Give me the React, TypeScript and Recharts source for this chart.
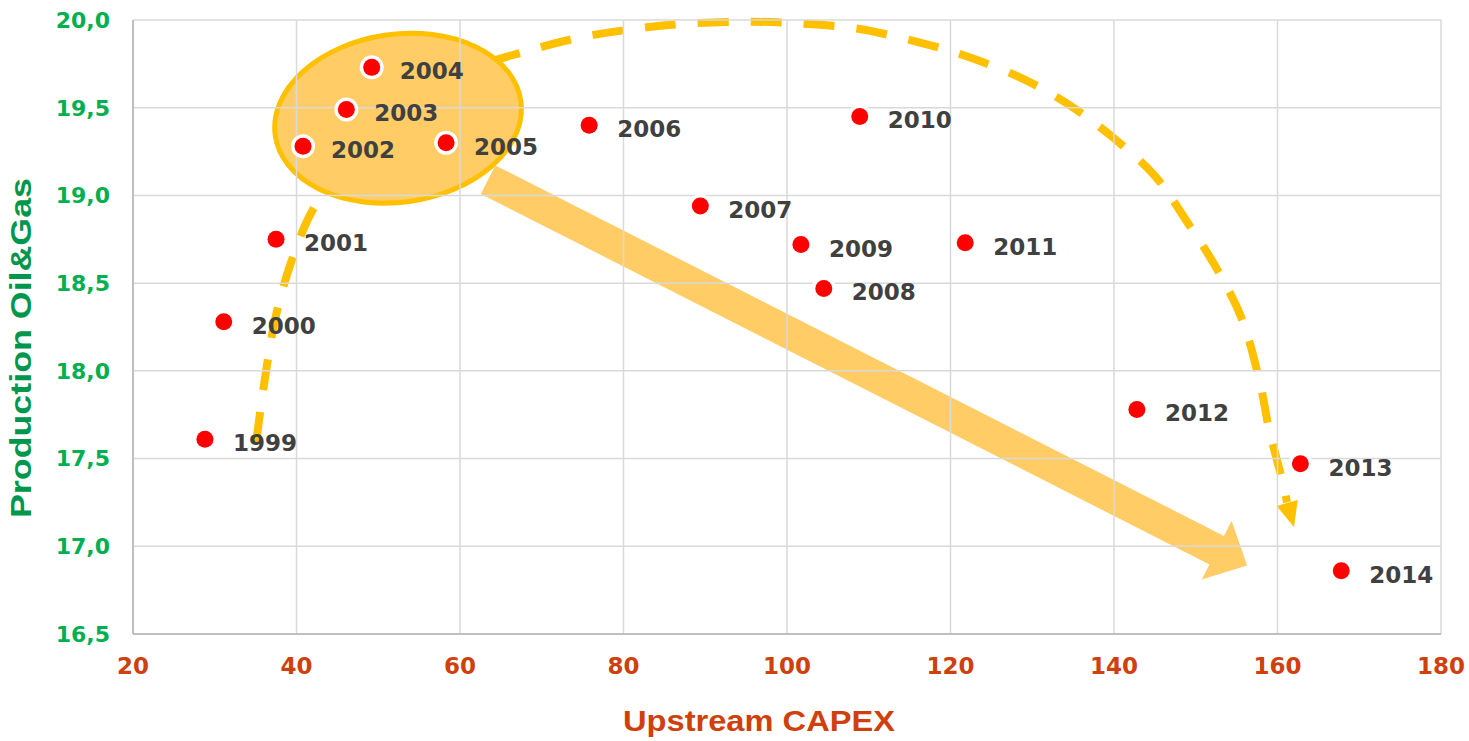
import React from 'react'
import { CartesianGrid, Scatter, ScatterChart, XAxis, YAxis } from 'recharts'

// values
const years = ['1999', '2000', '2001', '2002', '2003', '2004', '2005', '2006', '2007', '2008', '2009', '2010', '2011', '2012', '2013', '2014']
const capex = [28.8, 31.1, 37.5, 40.8, 46.1, 49.2, 58.3, 75.8, 89.4, 104.5, 101.7, 108.9, 121.8, 142.8, 162.8, 167.8]
const production = [17.61, 18.28, 18.75, 19.28, 19.49, 19.73, 19.3, 19.4, 18.94, 18.47, 18.72, 19.45, 18.73, 17.78, 17.47, 16.86]

const xTicks = [20, 40, 60, 80, 100, 120, 140, 160, 180]
const yTicks = [16.5, 17, 17.5, 18, 18.5, 19, 19.5, 20]

// annotation anchors, in data units
const arcPath: [number, number][] = [
  [35.05, 17.59], [36.15, 17.96], [37.37, 18.29], [39.2, 18.6], [41.9, 18.91], [45.93, 19.17],
  [52.66, 19.49], [60.0, 19.7], [67.95, 19.82], [74.68, 19.9], [81.41, 19.95], [88.13, 19.98],
  [95.47, 19.99], [101.59, 19.98], [108.69, 19.95], [116.39, 19.87], [122.14, 19.79], [128.62, 19.67],
  [134.37, 19.52], [139.88, 19.33], [145.02, 19.11], [148.93, 18.85], [152.72, 18.57], [155.78, 18.28],
  [157.86, 17.93], [158.96, 17.67], [160.67, 17.36], [161.16, 17.25],
]
const arcTip: [number, number] = [162.02, 17.11]
const clusterCenter: [number, number] = [52.42, 19.44]
const trendFrom: [number, number] = [63.43, 19.09]
const trendTo: [number, number] = [156.27, 16.89]

const points = years.map((year, i) => ({ year, x: capex[i], y: production[i] }))

const W = 1469
const H = 741
const MARGIN = { top: 20, right: 28, left: 0, bottom: 0 }
const Y_AXIS_W = 133
const X_AXIS_H = 107
const X_DOMAIN: [number, number] = [20, 180]
const Y_DOMAIN: [number, number] = [16.5, 20]

const plotLeft = MARGIN.left + Y_AXIS_W
const plotTop = MARGIN.top
const plotW = W - plotLeft - MARGIN.right
const plotH = H - plotTop - MARGIN.bottom - X_AXIS_H

const px = (x: number) => plotLeft + ((x - X_DOMAIN[0]) / (X_DOMAIN[1] - X_DOMAIN[0])) * plotW
const py = (y: number) => plotTop + ((Y_DOMAIN[1] - y) / (Y_DOMAIN[1] - Y_DOMAIN[0])) * plotH

const GREEN = '#00B050'
const GREEN_DARK = '#00964B'
const RUST = '#D0400C'
const GOLD = '#FFC000'
const PEACH = '#FFCC66'

function smoothPath(pts: [number, number][]): string {
  let d = `M${pts[0][0]},${pts[0][1]}`
  for (let i = 0; i < pts.length - 1; i++) {
    const p0 = pts[i - 1] || pts[i]
    const p1 = pts[i]
    const p2 = pts[i + 1]
    const p3 = pts[i + 2] || p2
    const c1x = p1[0] + (p2[0] - p0[0]) / 6
    const c1y = p1[1] + (p2[1] - p0[1]) / 6
    const c2x = p2[0] - (p3[0] - p1[0]) / 6
    const c2y = p2[1] - (p3[1] - p1[1]) / 6
    d += ` C${c1x},${c1y} ${c2x},${c2y} ${p2[0]},${p2[1]}`
  }
  return d
}

function Annotations() {
  const arc = arcPath.map(([x, y]) => [px(x), py(y)] as [number, number])
  const last = arc[arc.length - 1]
  const tip = [px(arcTip[0]), py(arcTip[1])]
  let ux = tip[0] - last[0]
  let uy = tip[1] - last[1]
  let len = Math.hypot(ux, uy)
  ux /= len
  uy /= len
  const headBase = [tip[0] - ux * 25, tip[1] - uy * 25]
  const arcHead = [
    [headBase[0] - uy * 11, headBase[1] + ux * 11],
    tip,
    [headBase[0] + uy * 11, headBase[1] - ux * 11],
  ]

  // big trend arrow
  const s = [px(trendFrom[0]), py(trendFrom[1])]
  const t = [px(trendTo[0]), py(trendTo[1])]
  let ax = t[0] - s[0]
  let ay = t[1] - s[1]
  len = Math.hypot(ax, ay)
  ax /= len
  ay /= len
  const nx = -ay
  const ny = ax
  const shaft = 16
  const head = 33
  const headLen = 34
  const b = [t[0] - ax * headLen, t[1] - ay * headLen]
  const arrow = [
    [s[0] + nx * shaft, s[1] + ny * shaft],
    [b[0] + nx * shaft, b[1] + ny * shaft],
    [b[0] + nx * head, b[1] + ny * head],
    t,
    [b[0] - nx * head, b[1] - ny * head],
    [b[0] - nx * shaft, b[1] - ny * shaft],
    [s[0] - nx * shaft, s[1] - ny * shaft],
  ]

  const cx = px(clusterCenter[0])
  const cy = py(clusterCenter[1])

  return (
    <svg width={W} height={H} style={{ position: 'absolute', left: 0, top: 0, zIndex: 0 }}>
      <path d={smoothPath(arc)} fill="none" stroke={GOLD} strokeWidth={8} strokeDasharray="31 22" />
      <polygon points={arcHead.map((p) => p.join(',')).join(' ')} fill={GOLD} />
      <ellipse
        cx={cx}
        cy={cy}
        rx={124}
        ry={84}
        transform={`rotate(-8 ${cx} ${cy})`}
        fill={PEACH}
        stroke={GOLD}
        strokeWidth={5}
      />
      <polygon points={arrow.map((p) => p.join(',')).join(' ')} fill={PEACH} />
    </svg>
  )
}

function YearDot(props: any) {
  const { cx, cy, payload } = props
  if (cx == null || cy == null) return null
  return (
    <g>
      <circle cx={cx} cy={cy} r={12} fill="#ffffff" />
      <circle cx={cx} cy={cy} r={8.5} fill="#FF0000" />
      <text
        x={cx + 28}
        y={cy + 12}
        fill="#404040"
        fontFamily="DejaVu Sans"
        fontWeight="bold"
        fontSize={23}
      >
        {payload.year}
      </text>
    </g>
  )
}

function XTitle(props: any) {
  const vb = props.viewBox || {}
  return (
    <text
      x={vb.x + vb.width / 2 - 28}
      y={vb.y + 97}
      textAnchor="middle"
      fill={RUST}
      fontFamily="Liberation Sans"
      fontWeight="bold"
      fontSize={29}
      textLength={272}
      lengthAdjust="spacingAndGlyphs"
    >
      Upstream CAPEX
    </text>
  )
}

function YTitle(props: any) {
  const vb = props.viewBox || {}
  const x = vb.x + 31
  const y = vb.y + vb.height / 2 + 21
  return (
    <text
      x={x}
      y={y}
      transform={`rotate(-90 ${x} ${y})`}
      textAnchor="middle"
      fill={GREEN_DARK}
      fontFamily="Liberation Sans"
      fontWeight="bold"
      fontSize={30}
      textLength={340}
      lengthAdjust="spacingAndGlyphs"
    >
      Production Oil&amp;Gas
    </text>
  )
}

export default function App() {
  return (
    <div style={{ position: 'relative', width: W, height: H, background: '#ffffff' }}>
      <style>{'body{margin:0}'}</style>
      <Annotations />
      <div style={{ position: 'relative', zIndex: 1 }}>
        <ScatterChart width={W} height={H} margin={MARGIN}>
          <CartesianGrid stroke="#D9D9D9" strokeWidth={1.5} />
          <XAxis
            type="number"
            dataKey="x"
            domain={X_DOMAIN}
            ticks={xTicks}
            height={X_AXIS_H}
            tickLine={false}
            tickSize={0}
            tickMargin={24}
            axisLine={{ stroke: '#BFBFBF', strokeWidth: 2 }}
            tick={{ fill: RUST, fontSize: 23, fontWeight: 'bold', fontFamily: 'DejaVu Sans' }}
            label={{ content: XTitle }}
          />
          <YAxis
            type="number"
            dataKey="y"
            domain={Y_DOMAIN}
            ticks={yTicks}
            width={Y_AXIS_W}
            tickLine={false}
            tickSize={0}
            tickMargin={23}
            axisLine={{ stroke: '#BFBFBF', strokeWidth: 2 }}
            tickFormatter={(v: number) => v.toFixed(1).replace('.', ',')}
            tick={{ fill: GREEN, fontSize: 22, fontWeight: 'bold', fontFamily: 'DejaVu Sans' }}
            label={{ content: YTitle }}
          />
          <Scatter data={points} shape={YearDot} isAnimationActive={false} />
        </ScatterChart>
      </div>
    </div>
  )
}
